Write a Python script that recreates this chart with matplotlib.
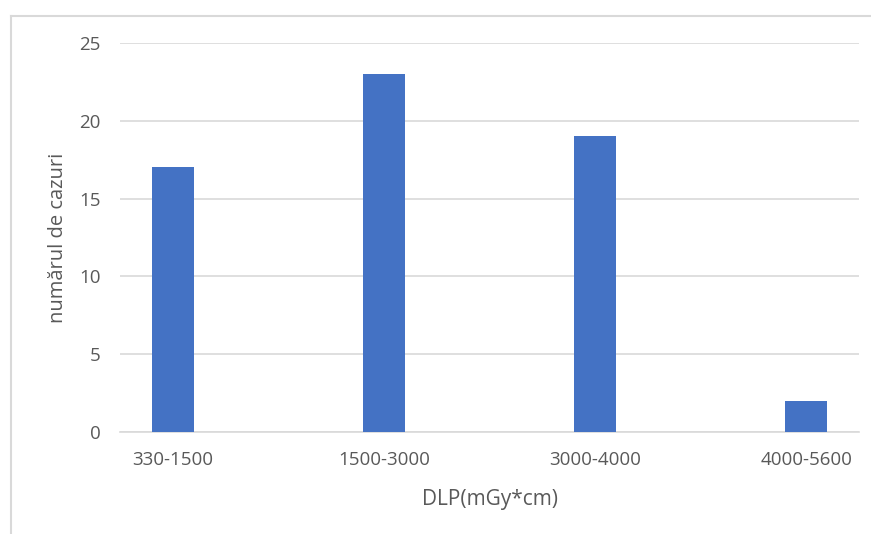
import matplotlib
matplotlib.use("Agg")
import matplotlib.pyplot as plt
from matplotlib.lines import Line2D

categories = ["330-1500", "1500-3000", "3000-4000", "4000-5600"]
cazuri = [17, 23, 19, 2]
y_ticks = [0, 5, 10, 15, 20, 25]

plt.rcParams['font.family'] = ['Open Sans', 'DejaVu Sans']

fig = plt.figure(figsize=(8.71, 5.34), dpi=100)
ax = fig.add_axes([0.1378, 0.191, 0.8484, 0.7285])

x = range(len(categories))
ax.bar(x, cazuri, width=0.2, color="#4472C4", zorder=3)

ax.set_xlim(-0.25, len(categories) - 0.75)
ax.set_ylim(0, 25)
ax.set_yticks(y_ticks)
ax.set_xticks(list(x))
ax.set_xticklabels(categories)
ax.yaxis.grid(True, color="#d9d9d9", linewidth=1.2, zorder=0)
for s in ["top", "right", "left"]:
    ax.spines[s].set_visible(False)
ax.spines["bottom"].set_color("#d9d9d9")
ax.spines["bottom"].set_linewidth(1.2)
ax.tick_params(length=0, labelsize=13.5, labelcolor="#595959")
ax.tick_params(axis="x", pad=14)
ax.tick_params(axis="y", pad=14)

ax.set_xlabel("DLP(mGy*cm)", fontsize=15, color="#595959", labelpad=14)
ax.set_ylabel("numărul de cazuri", fontsize=14.5, color="#595959", labelpad=8)

# chart area frame
fig.add_artist(Line2D([0.0122, 0.0122], [0, 0.97], color="#d9d9d9", linewidth=1.5,
                      transform=fig.transFigure))
fig.add_artist(Line2D([0.0122, 1.0], [0.97, 0.97], color="#d9d9d9", linewidth=1.5,
                      transform=fig.transFigure))

fig.savefig("out.png", dpi=100)
